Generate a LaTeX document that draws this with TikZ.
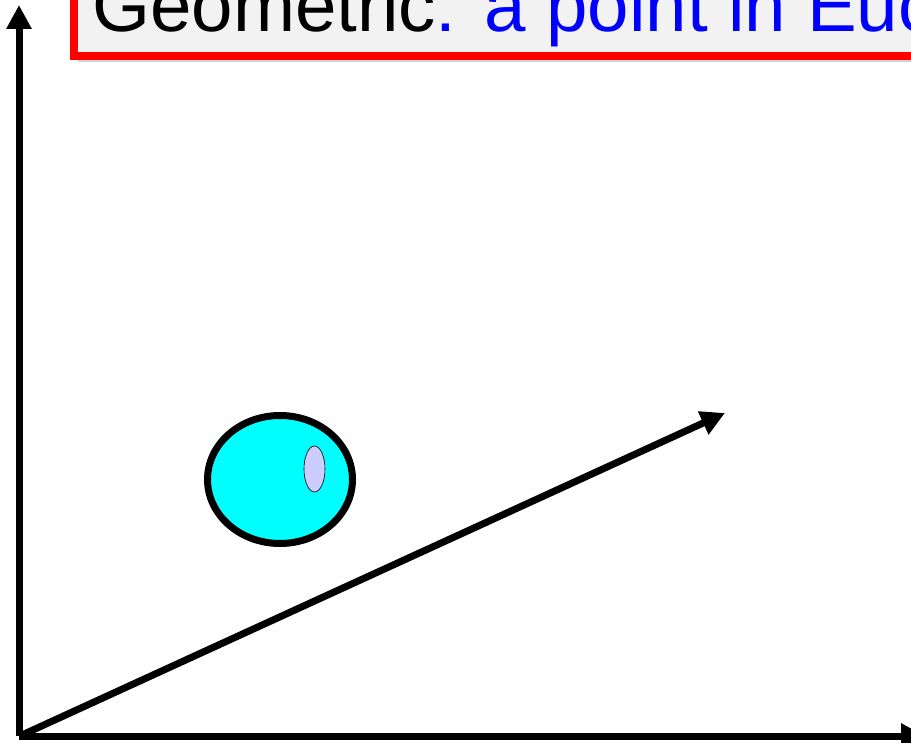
\documentclass[tikz,border=0pt]{standalone}
\usepackage{fontspec}
\setmainfont{Liberation Sans}
\usepackage{xcolor}
\usetikzlibrary{arrows.meta,positioning,shapes.geometric,shadows}
\definecolor{gpred}{HTML}{FF0000}
\definecolor{gpblue}{HTML}{0000FF}
\definecolor{gpgray}{HTML}{F2F2F2}
\definecolor{gpcyan}{HTML}{00FFFF}
\definecolor{gplilac}{HTML}{CCCCFF}
\tikzset{
  axisarrow/.style={-{Triangle[length=24pt,width=24pt]}, line width=7pt, draw=black},
  titlebox/.style={draw=gpred, line width=8pt, fill=gpgray, inner sep=0pt, outer sep=0pt,
    minimum width=900pt, minimum height=120pt,
    drop shadow={shadow xshift=4pt, shadow yshift=-6pt, fill=black!45, opacity=.4}},
  titletext/.style={font=\fontsize{74.5}{80}\selectfont, inner sep=0pt, text=black},
  blob/.style={ellipse, draw=black, line width=7pt, fill=gpcyan, inner sep=0pt,
    minimum width=145pt, minimum height=128pt},
  spot/.style={ellipse, draw=black, line width=0.6pt, fill=gplilac, inner sep=0pt,
    minimum width=21pt, minimum height=46pt}
}
\begin{document}
\begin{tikzpicture}[x=1pt, y=-1pt]
  \useasboundingbox (0,0) rectangle (911,743);
  \clip (0,0) rectangle (911,743);
  % title banner
  \node[titlebox, anchor=south west] (banner) at (73.5,56.5) {};
  \node[titletext, anchor=base west] (title) at (92,32)
    {Geometric\textcolor{gpblue}{: a point in Euc}};
  % axes
  \coordinate (origin) at (19,736);
  \coordinate (ytip) at (19,5);
  \coordinate (xtip) at (925,736);
  \coordinate (vstart) at (22,735);
  \coordinate (vtip) at (725,413);
  \draw[axisarrow] (origin) -- (ytip);
  \draw[axisarrow] (origin) -- (xtip);
  \draw[axisarrow] (vstart) -- (vtip);
  % point blob
  \node[blob] (blob) at (280,479.5) {};
  \node[spot] (spot) at (314.5,469) {};
\end{tikzpicture}
\end{document}
